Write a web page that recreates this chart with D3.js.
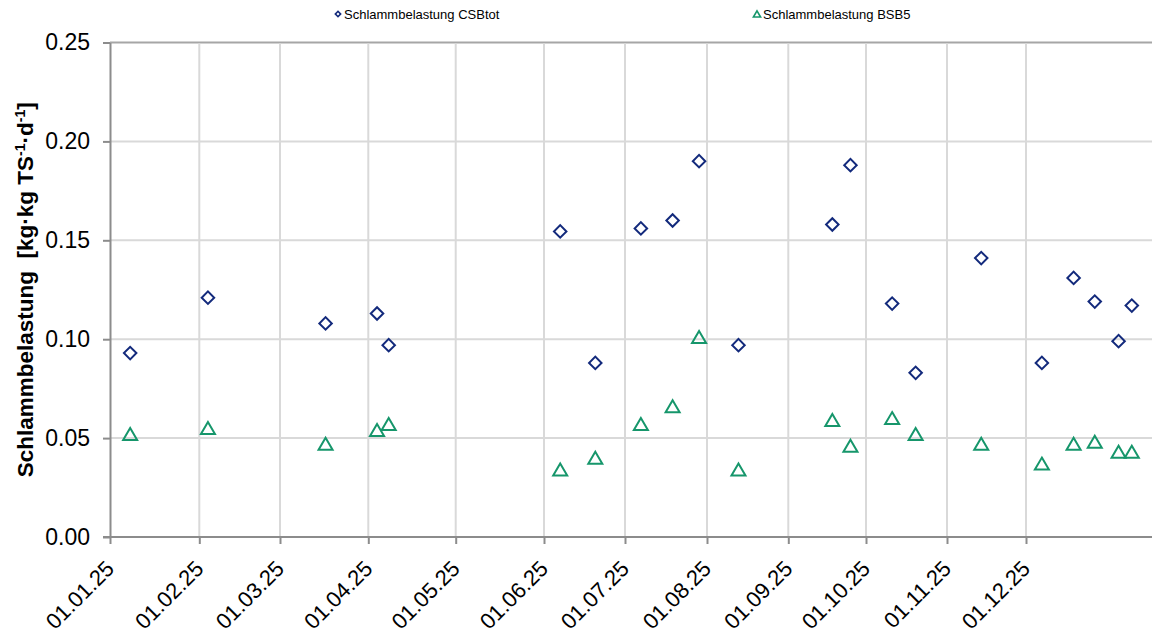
<!DOCTYPE html>
<html>
<head>
<meta charset="utf-8">
<script src="https://cdn.jsdelivr.net/npm/d3@7"></script>
<style>
  html, body { margin: 0; padding: 0; background: #fff; }
  svg { display: block; font-family: "Liberation Sans", Arial, sans-serif; }
</style>
</head>
<body>
<svg id="chart" width="1152" height="633"></svg>
<script>
// Sampling dates (dd.mm.yy)
const sampleDates = [
  "08.01.25", "04.02.25", "17.03.25", "04.04.25", "08.04.25",
  "07.06.25", "20.06.25", "07.07.25", "19.07.25", "29.07.25",
  "13.08.25", "18.09.25", "25.09.25", "11.10.25", "20.10.25",
  "14.11.25", "07.12.25", "19.12.25", "27.12.25", "05.01.26", "10.01.26"
];
// Sludge loading, COD total [kg·kg TS^-1·d^-1]
const csbTot = [
  0.093, 0.121, 0.108, 0.113, 0.097,
  0.1545, 0.088, 0.156, 0.160, 0.190,
  0.097, 0.158, 0.188, 0.118, 0.083,
  0.141, 0.088, 0.131, 0.119, 0.099, 0.117
];
// Sludge loading, BOD5 [kg·kg TS^-1·d^-1]
const bsb5 = [
  0.052, 0.055, 0.047, 0.054, 0.057,
  0.034, 0.040, 0.057, 0.066, 0.101,
  0.034, 0.059, 0.046, 0.060, 0.052,
  0.047, 0.037, 0.047, 0.048, 0.043, 0.043
];
// Axis ticks
const monthTicks = [
  "01.01.25", "01.02.25", "01.03.25", "01.04.25", "01.05.25", "01.06.25",
  "01.07.25", "01.08.25", "01.09.25", "01.10.25", "01.11.25", "01.12.25"
];
const yTicks = [0, 0.05, 0.10, 0.15, 0.20, 0.25];
const seriesNames = ["Schlammbelastung CSBtot", "Schlammbelastung BSB5"];

// ---- layout ----
const W = 1152, H = 633;
const plot = { left: 110, right: 1152, top: 42.5, bottom: 537 };
// horizontal breakpoints of the month grid (x pixel of each month start, plus 01.01.26)
const monthPx = [110, 199.3, 280, 368.3, 455.7, 544, 625, 707, 788.3, 866, 947, 1026, 1108];

const parse = d3.timeParse("%d.%m.%y");
const fmt = d3.timeFormat("%d.%m.%y");

const tickDates = monthTicks.map(parse);
const x = d3.scaleTime()
  .domain(tickDates.concat([parse("01.01.26")]))
  .range(monthPx);
const y = d3.scaleLinear().domain([0, 0.25]).range([plot.bottom, plot.top]);

const svg = d3.select("#chart");

const gridColor = "#d9d9d9";
const axisColor = "#8c8c8c";

// horizontal gridlines
svg.append("g").selectAll("line")
  .data(yTicks.slice(1))
  .join("line")
  .attr("x1", plot.left).attr("x2", plot.right)
  .attr("y1", d => y(d)).attr("y2", d => y(d))
  .attr("stroke", d => d === 0.25 ? "#a6a6a6" : gridColor)
  .attr("stroke-width", 2);

// vertical gridlines
svg.append("g").selectAll("line")
  .data(tickDates.slice(1))
  .join("line")
  .attr("x1", d => x(d)).attr("x2", d => x(d))
  .attr("y1", plot.top + 1).attr("y2", plot.bottom)
  .attr("stroke", gridColor)
  .attr("stroke-width", 2);

// y axis
const yAxis = d3.axisLeft(y)
  .tickValues(yTicks)
  .tickFormat(d3.format(".2f"))
  .tickSize(7)
  .tickSizeOuter(0)
  .tickPadding(13);
const gy = svg.append("g")
  .attr("transform", `translate(${plot.left},0)`)
  .call(yAxis);
gy.select(".domain").attr("stroke", axisColor).attr("stroke-width", 2);
gy.selectAll(".tick line").attr("stroke", axisColor).attr("stroke-width", 2);
gy.selectAll(".tick text")
  .attr("fill", "#000")
  .style("font-size", "23px")
  .style("font-family", "'Liberation Sans', Arial, sans-serif");

// x axis
const xAxis = d3.axisBottom(x)
  .tickValues(tickDates)
  .tickFormat(fmt)
  .tickSize(7)
  .tickSizeOuter(0);
const gx = svg.append("g")
  .attr("transform", `translate(0,${plot.bottom})`)
  .call(xAxis);
gx.select(".domain")
  .attr("d", `M${plot.left - 7},0H${plot.right}`)
  .attr("stroke", axisColor).attr("stroke-width", 2);
gx.selectAll(".tick line").attr("stroke", axisColor).attr("stroke-width", 2);
gx.selectAll(".tick text")
  .attr("fill", "#000")
  .style("font-size", "22px")
  .style("font-family", "'Liberation Sans', Arial, sans-serif")
  .attr("text-anchor", "end")
  .attr("dy", "0")
  .attr("y", 0)
  .attr("transform", "translate(5,33) rotate(-45)");

// y axis title
svg.append("text")
  .attr("transform", `translate(33,${(plot.top + plot.bottom) / 2}) rotate(-90)`)
  .attr("text-anchor", "middle")
  .style("font-size", "22.5px")
  .style("font-weight", "bold")
  .style("white-space", "pre")
  .attr("fill", "#000")
  .call(t => {
    t.append("tspan").text("Schlammbelastung  [kg·kg TS");
    t.append("tspan").attr("baseline-shift", "super").style("font-size", "14px").text("-1");
    t.append("tspan").text("·d");
    t.append("tspan").attr("baseline-shift", "super").style("font-size", "14px").text("-1");
    t.append("tspan").text("]");
  });

const csbColor = "#132a7c";
const bsbColor = "#16966b";
const diamond = d3.symbol().type(d3.symbolSquare).size(78);
const triangle = "M0,-6.2L7,5.8L-7,5.8Z";

const points = sampleDates.map((d, i) => ({ date: parse(d), csb: csbTot[i], bsb: bsb5[i] }));

// CSBtot markers (open diamonds)
svg.append("g").selectAll("path")
  .data(points)
  .join("path")
  .attr("d", diamond)
  .attr("transform", d => `translate(${x(d.date)},${y(d.csb)}) rotate(45)`)
  .attr("fill", "none")
  .attr("stroke", csbColor)
  .attr("stroke-width", 2);

// BSB5 markers (open triangles)
svg.append("g").selectAll("path")
  .data(points)
  .join("path")
  .attr("d", triangle)
  .attr("transform", d => `translate(${x(d.date)},${y(d.bsb)})`)
  .attr("fill", "none")
  .attr("stroke", bsbColor)
  .attr("stroke-width", 2);

// legend
const legend = svg.append("g").style("font-size", "13px");
const l1 = legend.append("g").attr("transform", "translate(338,14)");
l1.append("path")
  .attr("d", d3.symbol().type(d3.symbolSquare).size(14))
  .attr("transform", "rotate(45)")
  .attr("fill", "none").attr("stroke", csbColor).attr("stroke-width", 1.6);
l1.append("text").attr("x", 6).attr("y", 4.5).attr("fill", "#000").text(seriesNames[0]);

const l2 = legend.append("g").attr("transform", "translate(757,14)");
l2.append("path")
  .attr("d", "M0,-3.2L3.6,3L-3.6,3Z")
  .attr("fill", "none").attr("stroke", bsbColor).attr("stroke-width", 1.6);
l2.append("text").attr("x", 6).attr("y", 4.5).attr("fill", "#000").text(seriesNames[1]);
</script>
</body>
</html>
